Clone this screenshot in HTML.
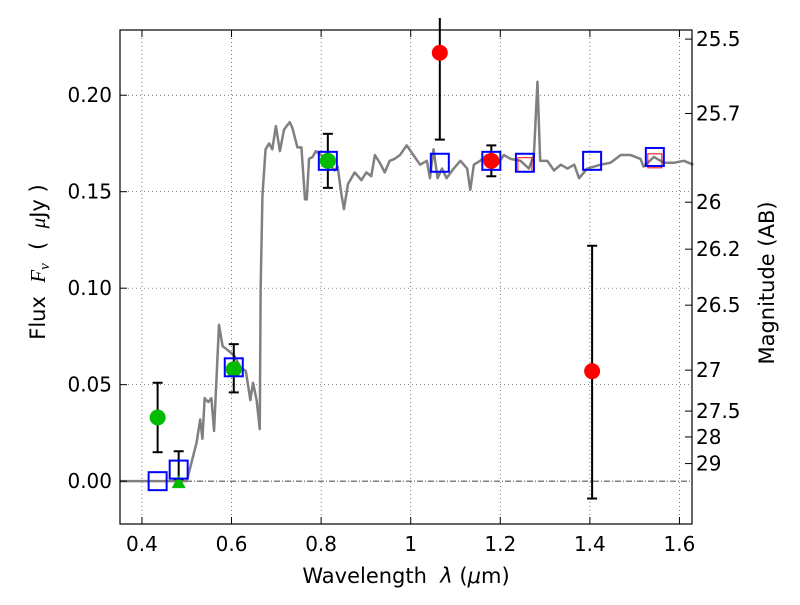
<!DOCTYPE html>
<html><head><meta charset="utf-8"><style>
body{margin:0;background:#fff;}
svg text{font-family:"DejaVu Sans","Liberation Sans",sans-serif;}
</style></head><body>
<svg id="chart" width="800" height="600" xmlns="http://www.w3.org/2000/svg">
<rect x="0" y="0" width="800" height="600" fill="#fff"/>
<g id="grid"></g>
<g id="plot"></g>
<rect x="120" y="30" width="572" height="494" fill="none" stroke="#000" stroke-width="1.2"/>
<g id="axes"></g>
<text x="406" y="583" font-size="21" text-anchor="middle">Wavelength&#160;&#160;<tspan font-style="italic">λ</tspan> (<tspan font-style="italic">μ</tspan>m)</text>
<text transform="translate(45,262) rotate(-90)" font-size="21" text-anchor="middle">Flux&#160;&#160;<tspan font-family="Liberation Serif" font-style="italic">F<tspan font-size="15" dy="4">ν</tspan></tspan><tspan dy="-4">&#160;&#160;(&#160;&#160;</tspan><tspan font-family="Liberation Serif" font-style="italic">μ</tspan>Jy )</text>
<text transform="translate(774,283) rotate(-90)" font-size="21" text-anchor="middle">Magnitude (AB)</text>
</svg>
<script>
const specW=[0.35,0.49,0.50,0.522,0.53,0.535,0.54,0.548,0.555,0.561,0.572,0.58,0.591,0.606,0.62,0.632,0.642,0.648,0.656,0.663,0.665,0.669,0.676,0.684,0.691,0.699,0.708,0.717,0.723,0.73,0.736,0.747,0.756,0.764,0.768,0.773,0.781,0.788,0.8,0.815,0.83,0.837,0.845,0.851,0.86,0.875,0.89,0.901,0.912,0.92,0.931,0.942,0.953,0.964,0.976,0.991,1.006,1.021,1.036,1.043,1.051,1.06,1.07,1.08,1.096,1.111,1.126,1.133,1.141,1.155,1.17,1.193,1.208,1.223,1.245,1.264,1.275,1.283,1.289,1.305,1.32,1.335,1.35,1.365,1.376,1.394,1.424,1.446,1.469,1.491,1.513,1.52,1.543,1.565,1.588,1.61,1.631];
const specF=[0,0,0,0.020,0.032,0.022,0.043,0.041,0.043,0.026,0.081,0.070,0.068,0.065,0.059,0.057,0.042,0.051,0.042,0.027,0.100,0.148,0.172,0.175,0.172,0.184,0.171,0.182,0.184,0.186,0.183,0.173,0.173,0.146,0.146,0.167,0.168,0.171,0.169,0.165,0.161,0.163,0.149,0.141,0.154,0.160,0.156,0.160,0.158,0.169,0.165,0.160,0.166,0.167,0.169,0.174,0.169,0.164,0.166,0.157,0.172,0.157,0.162,0.157,0.162,0.166,0.162,0.151,0.164,0.166,0.169,0.164,0.169,0.167,0.166,0.162,0.169,0.207,0.166,0.166,0.161,0.164,0.162,0.164,0.157,0.162,0.164,0.165,0.169,0.169,0.167,0.163,0.168,0.165,0.165,0.166,0.164];
const modelW=[0.435,0.482,0.605,0.815,1.065,1.18,1.255,1.405,1.545];
const modelF=[0.0,0.006,0.059,0.166,0.165,0.166,0.165,0.166,0.168];
const greenW=[0.435,0.605,0.815];
const greenF=[0.033,0.058,0.166];
const greenLo=[0.015,0.046,0.152];
const greenHi=[0.051,0.071,0.180];
const limW=[0.482];const limF=[0.0];const limHi=[0.0155];
const redW=[1.065,1.18,1.405];
const redF=[0.222,0.166,0.057];
const redLo=[0.177,0.158,-0.009];
const redHi=[0.27,0.174,0.122];
const redSqW=[1.255,1.545];const redSqF=[0.164,0.166];
const xTicks=[0.4,0.6,0.8,1.0,1.2,1.4,1.6];
const xTickLabels=["0.4","0.6","0.8","1","1.2","1.4","1.6"];
const yTicks=[0,0.05,0.10,0.15,0.20];
const yTickLabels=["0.00","0.05","0.10","0.15","0.20"];
const magTicks=[25.5,25.7,26,26.2,26.5,27,27.5,28,29];
const magLabels=["25.5","25.7","26","26.2","26.5","27","27.5","28","29"];

const L=120,R=692,T=30,B=524;
const x0=0.351,x1=1.628,y0=-0.0222,y1=0.2338;
const X=w=>L+(w-x0)/(x1-x0)*(R-L);
const Y=f=>B-(f-y0)/(y1-y0)*(B-T);
const NS="http://www.w3.org/2000/svg";
function mk(tag,attrs,parent){const e=document.createElementNS(NS,tag);for(const k in attrs)e.setAttribute(k,attrs[k]);parent.appendChild(e);return e;}
const grid=document.getElementById('grid'),plot=document.getElementById('plot'),axes=document.getElementById('axes');

xTicks.forEach((v,i)=>{
 const g=mk('line',{x1:X(v),x2:X(v),y1:T,y2:B,stroke:'#444','stroke-width':0.7,'stroke-dasharray':'1,3'},grid);
 
 const t1=mk('line',{x1:X(v),x2:X(v),y1:B,y2:B-7,stroke:'#000'},axes);
 
 const t2=mk('line',{x1:X(v),x2:X(v),y1:T,y2:T+7,stroke:'#000'},axes);
 
 const tx=mk('text',{x:X(v),y:B+27,'font-size':20,'text-anchor':'middle'},axes);tx.textContent=xTickLabels[i];
 
});
yTicks.forEach((v,i)=>{
 if(v!==0){const g=mk('line',{x1:L,x2:R,y1:Y(v),y2:Y(v),stroke:'#444','stroke-width':0.7,'stroke-dasharray':'1,3'},grid);
 }
 const t=mk('line',{x1:L,x2:L+7,y1:Y(v),y2:Y(v),stroke:'#000'},axes);
 
 const tx=mk('text',{x:L-8,y:Y(v)+7,'font-size':20,'text-anchor':'end'},axes);tx.textContent=yTickLabels[i];
 
});
magTicks.forEach((m,i)=>{
 const y=Y(Math.pow(10,(23.9-m)/2.5));
 const t=mk('line',{x1:R,x2:R-7,y1:y,y2:y,stroke:'#000'},axes);
 
 const tx=mk('text',{x:R+4,y:y+7,'font-size':20},axes);tx.textContent=magLabels[i];
 
});
const zl=mk('line',{x1:L,x2:R,y1:Y(0),y2:Y(0),stroke:'#000','stroke-width':0.8,'stroke-dasharray':'6,2,1,2'},plot);

const sp=mk('polyline',{points:specW.map((w,i)=>X(w)+','+Y(specF[i])).join(' '),fill:'none',stroke:'#808080','stroke-width':2.5,'stroke-linejoin':'round'},plot);

function ebar(w,lo,hi){const x=X(w),a=Y(Math.min(hi,0.24)),b=Y(lo);
 const g=mk('g',{stroke:'#000','stroke-width':2},plot);
 
 mk('line',{x1:x,x2:x,y1:a,y2:b},g);
 if(hi<0.23)mk('line',{x1:x-5,x2:x+5,y1:a,y2:a},g);
 mk('line',{x1:x-5,x2:x+5,y1:b,y2:b},g);}
greenW.forEach((w,i)=>ebar(w,greenLo[i],greenHi[i]));
limW.forEach((w,i)=>ebar(w,limF[i]+0.001,limHi[i]));
redW.forEach((w,i)=>ebar(w,redLo[i],redHi[i]));
greenW.forEach((w,i)=>{const c=mk('circle',{cx:X(w),cy:Y(greenF[i]),r:8,fill:'#00bb00'},plot);
 });
limW.forEach((w,i)=>{const x=X(w),y=Y(limF[i]);const p=mk('polygon',{points:`${x-7},${y+7} ${x+7},${y+7} ${x},${y-6}`,fill:'#00bb00'},plot);
 });
redW.forEach((w,i)=>{const c=mk('circle',{cx:X(w),cy:Y(redF[i]),r:8,fill:'#ff0000'},plot);
 });
redSqW.forEach((w,i)=>{const r=mk('rect',{x:X(w)-7,y:Y(redSqF[i])-7,width:14,height:14,fill:'none',stroke:'#ff0000','stroke-width':1},plot);
 });
modelW.forEach((w,i)=>{const r=mk('rect',{x:X(w)-9,y:Y(modelF[i])-9,width:18,height:18,fill:'none',stroke:'#0000ff','stroke-width':2},plot);
 });
</script>
</body></html>
